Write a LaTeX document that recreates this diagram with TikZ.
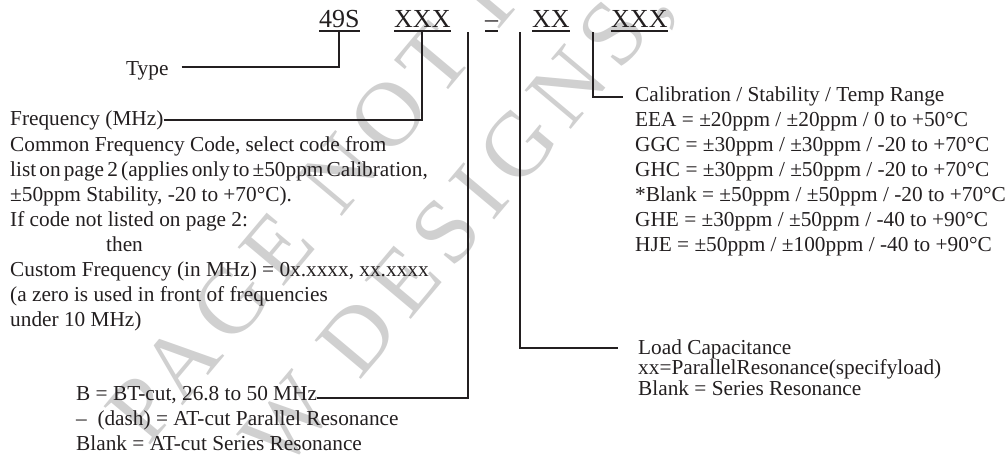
\documentclass[tikz,border=0pt]{standalone}
\usepackage{fontspec}
\setmainfont{Liberation Serif}
\usepackage{tikz}
\usetikzlibrary{calc}
\definecolor{inkblack}{HTML}{231F20}
\definecolor{markgray}{HTML}{D0D0D0}

\begin{document}
\begin{tikzpicture}[
  x=1pt, y=-1pt,
  partcode/.style={inner sep=0pt, anchor=base west, text=inkblack,
    font=\fontsize{26}{30}\selectfont},
  desc/.style={inner sep=0pt, anchor=base west, align=left, text=inkblack,
    font=\fontsize{21.3}{25}\selectfont},
  desctight/.style={desc, font=\fontsize{21.3}{20.5}\selectfont},
  wmark/.style={inner sep=0pt, anchor=base west, rotate=50, text=markgray,
    font=\fontsize{92}{92}\selectfont\addfontfeature{LetterSpace=12}},
  lead/.style={draw=inkblack, line width=2pt},
  uline/.style={draw=inkblack, line width=1.3pt}
]
  \useasboundingbox (0,0) rectangle (1008,464);
  \clip (0,0) rectangle (1008,464);

  \node[wmark] (wm1) at (148,448) {PAGE NOT R};
  \node[wmark] (wm2) at (282,474) {W DESIGNS,};

  \node[partcode] (p49s) at (319,27) {49S};
  \node[partcode] (pfreq) at (394,27) {XXX};
  \node[partcode] (pcut) at (485,27) {–};
  \node[partcode] (pload) at (532,27) {XX};
  \node[partcode] (pcal) at (611,27) {XXX};
  \foreach \p in {p49s,pfreq,pcut,pload,pcal}
    \draw[uline] ([yshift=-4pt]\p.base west) -- ([yshift=-4pt]\p.base east);

  \node[desc] (type) at (126,75) {Type};
  \node[desc] (freq) at (10,125) {Frequency (MHz)};
  \node[desc] (freqnote) at (10,326) {Common Frequency Code, select code from\\
    {\spaceskip=.15em list on page 2 (applies only to ±50ppm Calibration,}\\
    ±50ppm Stability, -20 to +70°C).\\
    If code not listed on page 2:\\
    \hspace*{96pt}then\\
    Custom Frequency (in MHz) = 0x.xxxx, xx.xxxx\\
    (a zero is used in front of frequencies\\
    under 10 MHz)};

  \node[desc] (btcut) at (76,400) {B = BT-cut, 26.8 to 50 MHz};
  \node[desc] (atcut) at (76,450) {–\ \ (dash) = AT-cut Parallel Resonance\\
    Blank = AT-cut Series Resonance};

  \node[desctight] (loadnote) at (638,395) {Load Capacitance\\
    xx=ParallelResonance(specifyload)\\
    Blank = Series Resonance};

  \node[desc] (calnote) at (635,251) {Calibration / Stability / Temp Range\\
    EEA = ±20ppm / ±20ppm / 0 to +50°C\\
    GGC = ±30ppm / ±30ppm / -20 to +70°C\\
    GHC = ±30ppm / ±50ppm / -20 to +70°C\\
    *Blank = ±50ppm / ±50ppm / -20 to +70°C\\
    GHE = ±30ppm / ±50ppm / -40 to +90°C\\
    HJE = ±50ppm / ±100ppm / -40 to +90°C};

  \coordinate (cuttop) at ([xshift=-17pt,yshift=-5pt]pcut.base west);
  \coordinate (loadtop) at ([xshift=-12pt,yshift=-5pt]pload.base west);
  \coordinate (caltop) at ([xshift=-18pt,yshift=-5pt]pcal.base west);

  \draw[lead] ($(type.base east)+(13,-8)$) -| ([yshift=-4pt]p49s.base);
  \draw[lead] ($(freq.base east)+(0,-5)$) -| ([yshift=-4pt]pfreq.base);
  \draw[lead] (cuttop) |- ($(btcut.base east)+(0,-2)$);
  \draw[lead] (loadtop) |- ($(loadnote.north west)+(-20,9)$);
  \draw[lead] (caltop) |- ($(calnote.north west)+(-12,11)$);
\end{tikzpicture}
\end{document}
